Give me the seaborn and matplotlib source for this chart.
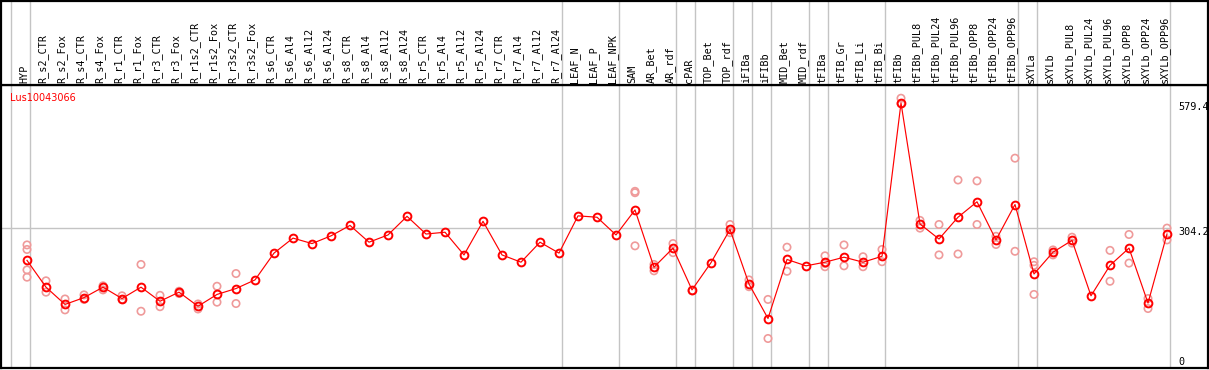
import pandas as pd
import matplotlib
matplotlib.use("Agg")
import matplotlib.pyplot as plt
import matplotlib.transforms as mtransforms
import seaborn as sns


# Step 1: data
gene = "Lus10043066"

samples = [
    "HYP",
    "R_s2_CTR", "R_s2_Fox", "R_s4_CTR", "R_s4_Fox", "R_r1_CTR", "R_r1_Fox",
    "R_r3_CTR", "R_r3_Fox", "R_r1s2_CTR", "R_r1s2_Fox", "R_r3s2_CTR", "R_r3s2_Fox",
    "R_s6_CTR", "R_s6_Al4", "R_s6_Al12", "R_s6_Al24", "R_s8_CTR", "R_s8_Al4",
    "R_s8_Al12", "R_s8_Al24", "R_r5_CTR", "R_r5_Al4", "R_r5_Al12", "R_r5_Al24",
    "R_r7_CTR", "R_r7_Al4", "R_r7_Al12", "R_r7_Al24",
    "LEAF_N", "LEAF_P", "LEAF_NPK",
    "SAM", "AR_Bet", "AR_rdf",
    "cPAR",
    "TOP_Bet", "TOP_rdf",
    "iFIBa",
    "iFIBb",
    "MID_Bet", "MID_rdf",
    "tFIBa",
    "tFIB_Gr", "tFIB_Li", "tFIB_Bi",
    "tFIBb", "tFIBb_PUL8", "tFIBb_PUL24", "tFIBb_PUL96", "tFIBb_OPP8",
    "tFIBb_OPP24", "tFIBb_OPP96",
    "sXYLa",
    "sXYLb", "sXYLb_PUL8", "sXYLb_PUL24", "sXYLb_PUL96", "sXYLb_OPP8",
    "sXYLb_OPP24", "sXYLb_OPP96",
]

# number of samples in each group (gray separators between groups)
group_sizes = [1, 28, 3, 3, 1, 2, 1, 1, 2, 1, 3, 7, 1, 7]

means = [
    233, 174, 136, 151, 174, 149, 174, 143, 163, 132, 158, 171, 190,
    249, 282, 270, 287, 310, 273, 289, 330, 291, 295, 245, 319,
    245, 229, 273, 249,
    331, 328, 289,
    344, 218, 260,
    168,
    228, 301,
    181,
    105,
    235, 221,
    229,
    240, 229, 242,
    579.4, 313, 280, 328, 362, 278, 356,
    203,
    251, 277, 155, 222, 260, 139, 291,
]

replicates = [
    [267, 257, 212, 196], [188, 163], [148, 124], [157, 147], [177, 168],
    [155, 147], [224, 121], [156, 131], [165, 160], [137, 126], [176, 141],
    [204, 138], [],
    [], [], [], [], [], [], [], [], [], [], [], [], [], [], [], [],
    [], [], [],
    [385, 382, 265], [224, 210], [270, 250],
    [166],
    [], [312, 294],
    [190, 175],
    [147, 61],
    [262, 209], [],
    [243, 219, 226],
    [267, 221], [241, 219], [257, 230],
    [590, 578], [321, 304], [312, 245], [410, 247], [408, 312], [286, 268],
    [458, 253],
    [230, 158, 222],
    [256, 245], [284, 271], [], [255, 187], [290, 227], [149, 127], [304, 278],
]

ytick_values = [0, 304.2, 579.4]
ytick_labels = ["0", "304.2", "579.4"]

mean_df = pd.DataFrame({"pos": range(len(samples)), "sample": samples, "value": means})
rep_df = pd.DataFrame(
    [(i, v) for i, reps in enumerate(replicates) for v in reps],
    columns=["pos", "value"],
)

# Step 2: layout in pixels
W, H = 1209, 370
fig = plt.figure(figsize=(W / 100, H / 100), dpi=100)
left_px, right_px = 1, 1207.5
header_top, header_bot, plot_bot = 0.5, 85, 368
ax = fig.add_axes([left_px / W, (H - plot_bot) / H,
                   (right_px - left_px) / W, (plot_bot - header_bot) / H])
hx = fig.add_axes([left_px / W, (H - header_bot) / H,
                   (right_px - left_px) / W, (header_bot - header_top) / H])

step = 19.0
xmin = -(27 - left_px) / step
xmax = xmin + (right_px - left_px) / step
for a in (ax, hx):
    a.set_xlim(xmin, xmax)
    a.set_xticks([])
    a.set_yticks([])
    a.set_facecolor("white")
    for s in a.spines.values():
        s.set_color("black")
        s.set_linewidth(1.6)
hx.set_ylim(0, 1)
scale = 0.4542
ax.set_ylim(-(plot_bot - 366.2) / scale, (366.2 - header_bot) / scale)

# group separators
grid_color = "#c4c4c4"
bounds = [-1]
end = -1
for g in group_sizes:
    end += g
    bounds.append(end)
for b in bounds:
    for a in (ax, hx):
        a.axvline(b + 0.16, color=grid_color, lw=1.0, zorder=0)

last_sep = (bounds[-1] + 0.16 - xmin) / (xmax - xmin)
ax.axhline(304.2, xmin=0, xmax=last_sep, color=grid_color, lw=1.0, zorder=0)

# Step 3: the data
sns.scatterplot(data=rep_df, x="pos", y="value", marker="o", s=28,
                facecolors="none", edgecolors="#ef9a9a", linewidths=1.2,
                ax=ax, zorder=2, legend=False)
sns.lineplot(data=mean_df, x="pos", y="value", color="red", lw=0.85,
             marker="o", ms=5.6, mfc="none", mec="red", mew=1.4,
             ax=ax, zorder=3, legend=False)
ax.set_xlabel("")
ax.set_ylabel("")
ax.set_xticks([])
ax.set_yticks([])

# sample labels in the header
mono = "DejaVu Sans Mono"
for i, name in enumerate(samples):
    hx.text(i - 0.16, 0.025, name, rotation=90, ha="center", va="bottom",
            fontsize=7.3, family=mono, color="black")

# value labels on the right
lab_x = (1178 - 27) / step
down = mtransforms.offset_copy(ax.transData, fig=fig, x=0, y=-4, units="dots")
up = mtransforms.offset_copy(ax.transData, fig=fig, x=0, y=4, units="dots")
for v, t in zip(ytick_values, ytick_labels):
    tr = up if v == 0 else down
    ax.text(lab_x, v, t, ha="left", va="center", fontsize=7.3,
            family=mono, color="black", transform=tr)

fig.text(10 / W, 1 - 98 / H, gene, color="red", fontsize=7,
         ha="left", va="center")

fig.savefig("out.png", dpi=100)
